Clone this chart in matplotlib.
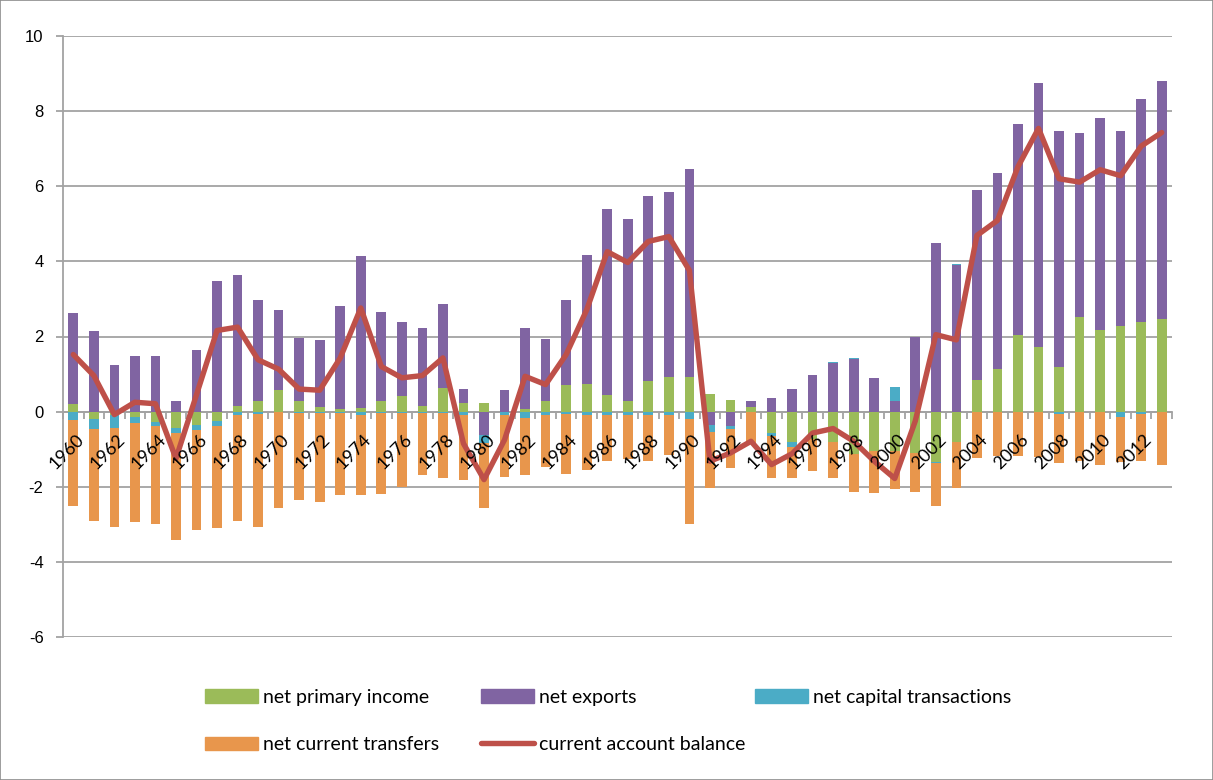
import numpy as np
import matplotlib
matplotlib.use('Agg')
import matplotlib.pyplot as plt
from matplotlib.patches import Rectangle, Patch
from matplotlib.lines import Line2D

plt.rcParams['axes.unicode_minus'] = False

years = list(range(1960, 2014))

# values (% of GDP)
primary_income = [0.21, -0.19, -0.08, -0.14, -0.27, -0.44, -0.35, -0.26, 0.16, 0.29,
                  0.57, 0.29, 0.12, 0.08, 0.09, 0.29, 0.41, 0.16, 0.62, 0.23,
                  0.24, 0.00, 0.07, 0.27, 0.72, 0.74, 0.43, 0.27, 0.81, 0.92,
                  0.91, 0.48, 0.32, 0.12, -0.57, -0.81, -0.73, -0.82, -1.13, -1.05,
                  -1.05, -1.10, -1.34, -0.82, 0.85, 1.14, 2.04, 1.73, 1.19, 2.51,
                  2.18, 2.27, 2.38, 2.46]
net_exports = [2.41, 2.15, 1.23, 1.49, 1.49, 0.27, 1.63, 3.49, 3.47, 2.68,
               2.13, 1.67, 1.79, 2.73, 4.06, 2.37, 1.97, 2.06, 2.24, 0.36,
               -0.63, 0.57, 2.15, 1.67, 2.26, 3.44, 4.96, 4.86, 4.92, 4.94,
               5.54, -0.36, -0.39, 0.17, 0.35, 0.60, 0.98, 1.29, 1.41, 0.90,
               0.29, 2.00, 4.49, 3.90, 5.05, 5.21, 5.63, 7.01, 6.28, 4.92,
               5.64, 5.19, 5.94, 6.34]
capital = [-0.23, -0.26, -0.35, -0.16, -0.12, -0.14, -0.13, -0.11, -0.09, -0.05,
           -0.02, -0.03, -0.03, -0.03, -0.08, -0.03, -0.03, -0.03, -0.03, -0.09,
           -0.20, -0.09, -0.17, -0.10, -0.07, -0.10, -0.08, -0.08, -0.08, -0.08,
           -0.19, -0.19, -0.06, 0.00, -0.09, -0.13, 0.00, 0.03, 0.02, 0.00,
           0.37, 0.00, -0.03, 0.03, 0.00, 0.00, 0.00, 0.02, -0.05, 0.00,
           0.00, -0.14, -0.05, 0.00]
transfers = [-2.29, -2.47, -2.64, -2.63, -2.61, -2.84, -2.66, -2.72, -2.83, -3.02,
             -2.55, -2.33, -2.38, -2.20, -2.15, -2.15, -1.98, -1.67, -1.73, -1.72,
             -1.73, -1.66, -1.52, -1.38, -1.59, -1.46, -1.24, -1.18, -1.24, -1.07,
             -2.80, -1.48, -1.05, -0.85, -1.10, -0.84, -0.86, -0.96, -1.02, -1.11,
             -1.01, -1.05, -1.14, -1.21, -1.23, -1.17, -1.17, -1.22, -1.32, -1.32,
             -1.43, -1.21, -1.27, -1.41]
balance = [1.52, 0.96, -0.08, 0.25, 0.21, -1.25, 0.45, 2.16, 2.25, 1.38,
           1.13, 0.60, 0.57, 1.43, 2.76, 1.20, 0.90, 0.96, 1.43, -0.85,
           -1.81, -0.75, 0.94, 0.72, 1.52, 2.71, 4.26, 3.97, 4.53, 4.66,
           3.76, -1.32, -1.10, -0.79, -1.41, -1.12, -0.57, -0.45, -0.79, -1.32,
           -1.78, -0.25, 2.05, 1.91, 4.69, 5.09, 6.52, 7.54, 6.20, 6.11,
           6.44, 6.28, 7.07, 7.43]

series = [("net primary income", primary_income, "#9BBB59"),
          ("net exports", net_exports, "#8064A2"),
          ("net capital transactions", capital, "#4BACC6"),
          ("net current transfers", transfers, "#E8964C")]
line_color = "#BE5049"
grid_color = "#a3a3a3"

fig = plt.figure(figsize=(12.13, 7.80), dpi=100)
W, H = 1213, 780
ax = fig.add_axes([63 / W, 1 - 637 / H, (1172 - 63) / W, (637 - 36) / H])

x = np.arange(len(years))
pos_base = np.zeros(len(years))
neg_base = np.zeros(len(years))
for name, vals, col in series:
    v = np.array(vals)
    base = np.where(v >= 0, pos_base, neg_base)
    ax.bar(x, v, width=0.47, bottom=base, color=col, zorder=2, linewidth=0)
    pos_base = pos_base + np.where(v > 0, v, 0)
    neg_base = neg_base + np.where(v < 0, v, 0)

ax.plot(x, balance, color=line_color, lw=3.9, solid_joinstyle='round',
        solid_capstyle='round', zorder=3)

ax.set_xlim(-0.5, len(years) - 0.5)
ax.set_ylim(-6, 10)
ax.set_yticks(np.arange(-6, 11, 2))
ax.yaxis.grid(True, color=grid_color, lw=1.3, zorder=0)
ax.set_axisbelow(True)
for s in ['top', 'right']:
    ax.spines[s].set_visible(False)
ax.spines['left'].set_color(grid_color)
ax.spines['left'].set_linewidth(1.3)
ax.spines['bottom'].set_position(('data', 0))
ax.spines['bottom'].set_color(grid_color)
ax.spines['bottom'].set_linewidth(1.3)
ax.spines['bottom'].set_zorder(1)

ax.tick_params(axis='y', length=5, width=1.3, color=grid_color, pad=9,
               labelsize=12)
for lab in ax.get_yticklabels():
    lab.set_fontfamily('Liberation Sans')

ax.set_xticks([])
ax.set_xticks(np.arange(-0.5, len(years), 1), minor=True)
ax.tick_params(axis='x', which='minor', length=5, width=1.3, color=grid_color,
               direction='out')

for i in range(0, len(years), 2):
    ax.text(i + 0.4, -0.68, str(years[i]), rotation=45, ha='right', va='center',
            rotation_mode='anchor', fontsize=13, family='Lato', zorder=4,
            clip_on=False)

# legend, laid out in Excel style fixed columns
handles = [Patch(color=c) for _, _, c in series]
line_handle = Line2D([], [], color=line_color, lw=3.9, solid_capstyle='round')
cols = [([handles[0], handles[3]], [series[0][0], series[3][0]], 205),
        ([handles[1], line_handle], [series[1][0], "current account balance"], 481),
        ([handles[2]], [series[2][0]], 755)]
for hs, labs, px in cols:
    fig.legend(hs, labs, loc='upper left', bbox_to_anchor=(px / W, 1 - 689 / H),
               frameon=False, borderpad=0, borderaxespad=0, handlelength=2.7,
               handletextpad=0.3, labelspacing=1.55,
               prop={'family': 'Lato', 'size': 14})

fig.patches.append(Rectangle((0, 0), 1, 1, transform=fig.transFigure, fill=False,
                             edgecolor='#8c8c8c', lw=1.2))

fig.savefig('out.png', dpi=100, facecolor='white')
